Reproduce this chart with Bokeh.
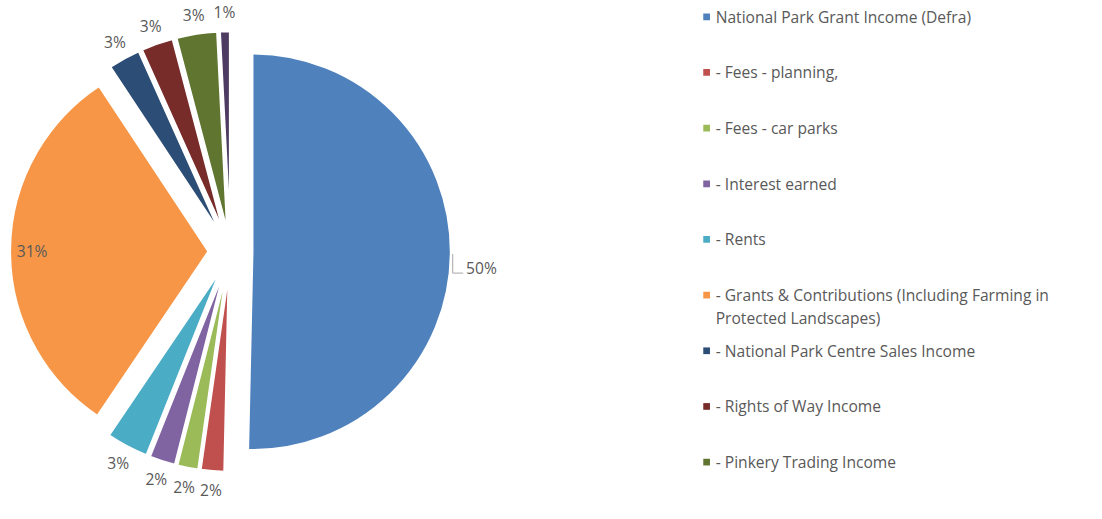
import math
import textwrap
from bokeh.plotting import figure
from bokeh.models import Range1d, ColumnDataSource
from bokeh.core.properties import value
from bokeh.embed import file_html
from bokeh.resources import INLINE

# ---- data ----
categories = [
    "National Park Grant Income (Defra)",
    "- Fees - planning,",
    "- Fees - car parks",
    "- Interest earned",
    "- Rents",
    "- Grants & Contributions (Including Farming in Protected Landscapes)",
    "- National Park Centre Sales Income",
    "- Rights of Way Income",
    "- Pinkery Trading Income",
    "- Other Income",
]
shares = [50.3, 1.9, 1.7, 2.1, 3.4, 31.2, 2.6, 2.6, 3.3, 0.8]
colors = ["#4F81BD", "#C0504D", "#9BBB59", "#8064A2", "#4BACC6",
          "#F79646", "#2C4D75", "#772C2A", "#5F7530", "#4D3B62"]

# layout: work in a 1102 x 519 design space, scaled uniformly to fit the page
W, H = 1086, 503
DH = 519
PAD = 6                      # room below the lowest labels
S = H / (DH + PAD)
FONT = "Open Sans"
FSIZE = f"{16.3 * S:.1f}px"
TXT = "#595959"

p = figure(width=W, height=H, output_backend="svg", toolbar_location=None,
           x_range=Range1d(0, W / S), y_range=Range1d(-PAD, DH),
           x_axis_type=None, y_axis_type=None, min_border=0)
p.outline_line_color = None
p.grid.visible = False
p.background_fill_color = "white"

CX, CY = 240, DH - 262      # pie centre (design units)
R = 207
EXPLODE = 23
LABEL_R = 250

total = sum(shares)
cum = 0.0
xs, ys, starts, ends = [], [], [], []
mids = []
for v in shares:
    a1 = cum / total * 360.0
    cum += v
    a2 = cum / total * 360.0
    mid = (a1 + a2) / 2
    mids.append(mid)
    xs.append(CX + EXPLODE * math.sin(math.radians(mid)))
    ys.append(CY + EXPLODE * math.cos(math.radians(mid)))
    starts.append(math.radians(90 - a2))
    ends.append(math.radians(90 - a1))

src = ColumnDataSource(dict(x=xs, y=ys, start=starts, end=ends, color=colors))
p.wedge(x="x", y="y", radius=R, start_angle="start", end_angle="end",
        fill_color="color", line_color="white", line_width=2, source=src)

# ---- data labels ----
lx, ly, lt, la = [], [], [], []
for i, v in enumerate(shares):
    pct = f"{round(v / total * 100)}%"
    m = math.radians(mids[i])
    if v / total > 0.4:
        ax = xs[i] + R * math.sin(m) + 2
        ay = ys[i] + R * math.cos(m)
        p.line([ax, ax, ax + 11], [ay, ay - 20, ay - 20], line_color="#A6A6A6", line_width=1)
        lx.append(ax + 14); ly.append(ay - 15); lt.append(pct); la.append("left")
    elif v / total > 0.2:
        lx.append(CX + R * math.sin(m)); ly.append(CY + R * math.cos(m)); lt.append(pct); la.append("center")
    else:
        lx.append(CX + LABEL_R * math.sin(m)); ly.append(CY + LABEL_R * math.cos(m)); lt.append(pct); la.append("center")

p.text(x="x", y="y", text="t", text_align="a", source=ColumnDataSource(dict(x=lx, y=ly, t=lt, a=la)),
       text_baseline="middle", text_font=value(FONT), text_font_size=FSIZE, text_color=TXT)

# ---- legend ----
LEG_X = 737
LEG_TOP = DH - 17
LEG_STEP = 58.1
LINE_H = 23.5
mx, my, mc = [], [], []
tx, ty, tt = [], [], []
for i, name in enumerate(categories):
    y0 = LEG_TOP - i * LEG_STEP
    if y0 < 15:
        break
    mx.append(LEG_X); my.append(y0); mc.append(colors[i])
    for j, line in enumerate(textwrap.wrap(name, 46)):
        tx.append(LEG_X + 9.5); ty.append(y0 - j * LINE_H); tt.append(line)

p.scatter(x=mx, y=my, marker="square", size=7 * S, color=mc, line_color=None)
p.text(x=tx, y=ty, text=tt, text_baseline="middle", text_align="left",
       text_font=value(FONT), text_font_size=FSIZE, text_color=TXT)

open("out.html", "w").write(file_html(p, INLINE))
